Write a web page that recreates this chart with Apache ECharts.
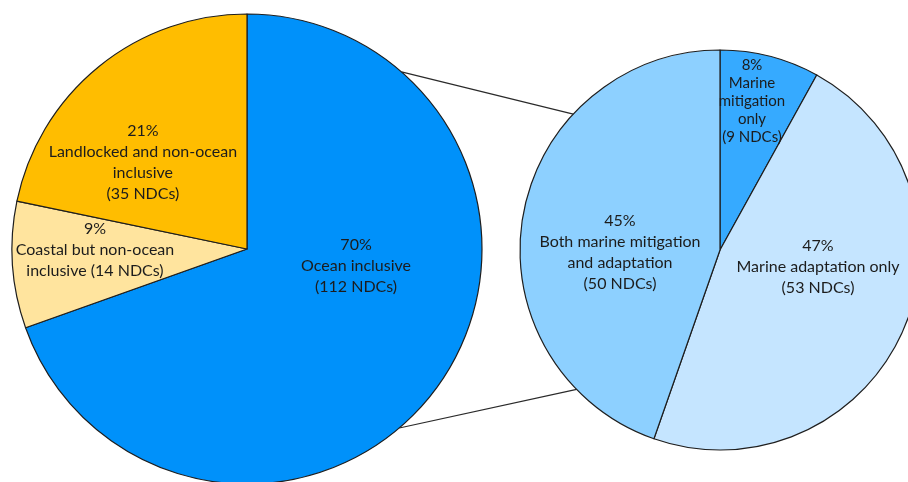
<!DOCTYPE html>
<html>
<head>
<meta charset="utf-8">
<script src="https://cdn.jsdelivr.net/npm/echarts@6/dist/echarts.min.js"></script>
<style>
html,body{margin:0;padding:0;background:#fff;}
#c{width:908px;height:482px;}
</style>
</head>
<body>
<div id="c"></div>
<script>
// ---- data ----
const leftCategories = ['Ocean inclusive', 'Coastal but non-ocean inclusive', 'Landlocked and non-ocean inclusive'];
const leftValues = [112, 14, 35];
const leftPercents = [70, 9, 21];
const leftLabelNames = ['Ocean inclusive', 'Coastal but non-ocean\ninclusive', 'Landlocked and non-ocean\ninclusive'];

const rightCategories = ['Marine mitigation only', 'Marine adaptation only', 'Both marine mitigation and adaptation'];
const rightValues = [9, 53, 50];
const rightPercents = [8, 47, 45];
const rightLabelNames = ['Marine\nmitigation\nonly', 'Marine adaptation only', 'Both marine mitigation\nand adaptation'];

// ---- styles / layout ----
const leftColors = ['#0091FA', '#FFE49E', '#FFBD00'];
const rightColors = ['#36AAFF', '#C5E5FF', '#8DD0FF'];
const L = {cx: 247, cy: 249, r: 235};
const R = {cx: 720, cy: 250, r: 200};
// label anchors as fractions of radius from centre
const leftLabelPos = [[0.464, 0.072], [-0.647, 0.002], [-0.443, -0.368]];
const rightLabelPos = [[0.16, -0.745], [0.49, 0.085], [-0.5, 0.0125]];
const leftLabelSep = ['\n', ' ', '\n'];
const rightLabelSep = ['\n', '\n', '\n'];

const FONT = 'Lato, "Open Sans", sans-serif';

function buildData(cats, vals, pcts, names, seps, colors, small) {
  return cats.map((c, i) => {
    let txt;
    if (seps[i] === ' ') txt = pcts[i] + '%\n' + names[i] + ' (' + vals[i] + ' NDCs)';
    else txt = pcts[i] + '%\n' + names[i] + '\n(' + vals[i] + ' NDCs)';
    return {
      name: c, value: vals[i], itemStyle: {color: colors[i]},
      label: {formatter: txt, fontSize: small === i ? 15 : 16, lineHeight: small === i ? 18 : 21}
    };
  });
}

function layoutFn(P, pos) {
  return function (p) {
    const a = pos[p.dataIndex];
    return {x: P.cx + a[0] * P.r, y: P.cy + a[1] * P.r, align: 'center', verticalAlign: 'middle'};
  };
}

function pt(P, deg) {
  const t = deg * Math.PI / 180;
  return [P.cx + P.r * Math.cos(t), P.cy - P.r * Math.sin(t)];
}
// connector line angles (degrees, math convention)
const connTop = [48.9, 137.2];
const connBot = [-49.6, -135.8];

const chart = echarts.init(document.getElementById('c'), null, {renderer: 'canvas'});
const common = {
  type: 'pie', startAngle: 90, clockwise: true, animation: false, silent: true,
  itemStyle: {borderColor: '#1e1e1e', borderWidth: 1.2},
  label: {show: true, position: 'inside', color: '#1c1c1c', fontFamily: FONT, fontWeight: 'normal', align: 'center'},
  labelLine: {show: false},
  emphasis: {disabled: true}
};
chart.setOption({
  backgroundColor: '#ffffff',
  animation: false,
  graphic: [
    {type: 'line', z: 0, shape: {x1: pt(L, connTop[0])[0], y1: pt(L, connTop[0])[1], x2: pt(R, connTop[1])[0], y2: pt(R, connTop[1])[1]}, style: {stroke: '#2a2a2a', lineWidth: 1.2}},
    {type: 'line', z: 0, shape: {x1: pt(L, connBot[0])[0], y1: pt(L, connBot[0])[1], x2: pt(R, connBot[1])[0], y2: pt(R, connBot[1])[1]}, style: {stroke: '#2a2a2a', lineWidth: 1.2}}
  ],
  series: [
    Object.assign({}, common, {
      name: 'NDCs', center: [L.cx, L.cy], radius: [0, L.r],
      data: buildData(leftCategories, leftValues, leftPercents, leftLabelNames, leftLabelSep, leftColors, -1),
      labelLayout: layoutFn(L, leftLabelPos)
    }),
    Object.assign({}, common, {
      name: 'Ocean inclusive NDCs', center: [R.cx, R.cy], radius: [0, R.r],
      data: buildData(rightCategories, rightValues, rightPercents, rightLabelNames, rightLabelSep, rightColors, 0),
      labelLayout: layoutFn(R, rightLabelPos)
    })
  ]
});
</script>
</body>
</html>
